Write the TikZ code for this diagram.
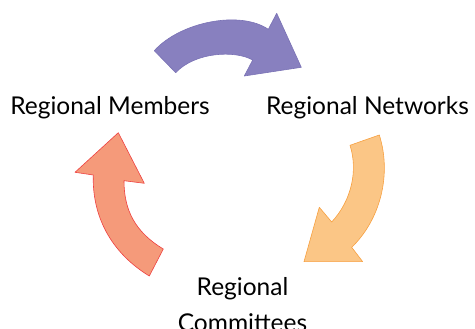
\documentclass[tikz,border=0pt]{standalone}
\usepackage{fontspec}
\setmainfont{Lato}
\begin{document}
\begin{tikzpicture}[x=1pt,y=-1pt,
  lbl/.style={font=\fontsize{24.5}{36}\selectfont, inner sep=0pt, align=center},
  purplearrow/.style={fill=arrowpurple, draw=arrowpurpleedge, line width=0.6pt, line join=round},
  orangearrow/.style={fill=arroworange, draw=arroworangeedge, line width=0.6pt, line join=round},
  redarrow/.style={fill=arrowred, draw=arrowrededge, line width=0.6pt, line join=round}]
\definecolor{arrowpurple}{HTML}{8880BF}
\definecolor{arrowpurpleedge}{HTML}{7A72B5}
\definecolor{arroworange}{HTML}{FBC686}
\definecolor{arroworangeedge}{HTML}{F7A040}
\definecolor{arrowred}{HTML}{F59A7A}
\definecolor{arrowrededge}{HTML}{EE4040}
\useasboundingbox (0,0) rectangle (475,329);
\clip (0,0) rectangle (475,329);
% purple arrow
\draw[purplearrow] (154.3,50.7) .. controls (180,22) and (240,10) .. (268.3,29.3)
  -- (276.7,13.3) -- (301.3,67.3) -- (244.3,76) -- (252.7,60)
  .. controls (235,50) and (195,52) .. (175.7,72.7) -- cycle;
% orange arrow
\draw[orangearrow] (379.3,135) .. controls (392,175) and (380,220) .. (351.7,247.3)
  -- (362.7,261.7) -- (304,261.7) -- (319.3,207.3) -- (331.7,222)
  .. controls (352,200) and (358,170) .. (350,145.3) -- cycle;
% red arrow
\draw[redarrow] (149.3,276) .. controls (110,252) and (92,215) .. (93.3,175)
  -- (75,172.3) -- (118.3,132.7) -- (144.3,183.3) -- (124,180.7)
  .. controls (124,210) and (135,232) .. (163.3,249) -- cycle;
% labels
\node[lbl, anchor=base] (members) at (110,115) {Regional Members};
\node[lbl, anchor=base] (networks) at (367.5,115) {Regional Networks};
\node[lbl, anchor=base] (committees) at (242.5,331) {Regional\\Committees};
\end{tikzpicture}
\end{document}
